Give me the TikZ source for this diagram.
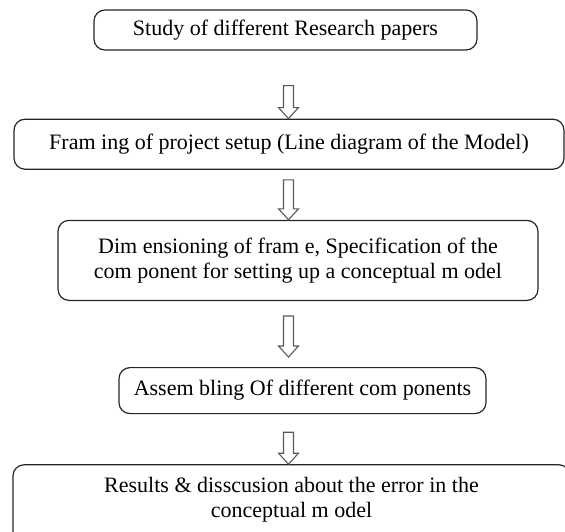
\documentclass[tikz,border=0pt]{standalone}
\usepackage{fontspec}
\setmainfont{Liberation Serif}
\usetikzlibrary{positioning,calc}

\begin{document}
\begin{tikzpicture}[node distance=50pt,
  box/.style={draw=black!85, line width=1.2pt, rounded corners=11pt, align=center, font=\fontsize{22}{25}\selectfont, inner sep=4pt},
  hollow/.style={draw=black!65, line width=1.1pt, to path={let \p1=(\tikztostart), \p2=(\tikztotarget) in
    (\x1-5pt,\y1) -- (\x1-5pt,\y2+11pt) -- (\x1-10pt,\y2+11pt) -- (\x1,\y2) -- (\x1+10pt,\y2+11pt) -- (\x1+5pt,\y2+11pt) -- (\x1+5pt,\y1) -- cycle}}]
\useasboundingbox (0,0) rectangle (565pt,-532pt);
\coordinate (ax) at (288.5pt,0);
\node[box, minimum width=383pt, minimum height=40pt] (papers) at (285.5pt,-30pt) {Study of different Research papers};
\node[box, minimum width=550pt, minimum height=50pt, below=68pt of papers, xshift=3.5pt] (setup) {Fram ing of project setup (Line diagram of the Model)};
\node[box, minimum width=480pt, minimum height=80pt, below=of setup, xshift=9pt] (frame) {Dim ensioning of fram e, Specification of the\\com ponent for setting up a conceptual m odel};
\node[box, minimum width=367pt, minimum height=46pt, below=66pt of frame, xshift=4.5pt] (assembly) {Assem bling Of different com ponents};
\node[box, minimum width=557pt, text height=49pt, text depth=50pt, below=of assembly, xshift=-11pt] (results) {Results \& disscusion about the error in the\\conceptual m odel};
\draw[hollow] ($(papers.south -| ax)+(0,-35pt)$) to (setup.north -| ax);
\draw[hollow] ($(setup.south -| ax)+(0,-10pt)$) to (frame.north -| ax);
\draw[hollow] ($(frame.south -| ax)+(0,-15pt)$) to ($(assembly.north -| ax)+(0,10pt)$);
\draw[hollow] ($(assembly.south -| ax)+(0,-18pt)$) to (results.north -| ax);
\end{tikzpicture}
\end{document}
